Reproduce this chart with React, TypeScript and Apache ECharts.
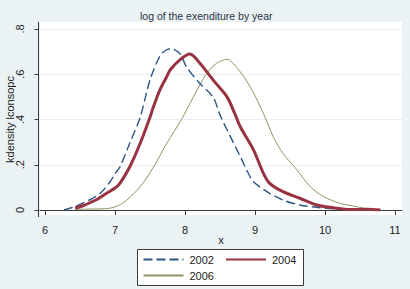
import React, { useEffect, useRef } from "react";
import * as echarts from "echarts";

// kernel density estimates of log consumption per capita, by survey year
const x2002 = [6.27, 6.4, 6.5, 6.65, 6.79, 6.93, 7.0, 7.07, 7.21, 7.36, 7.5, 7.64, 7.72, 7.8, 7.93, 8.02, 8.21, 8.4, 8.5, 8.64, 8.79, 8.88, 8.98, 9.17, 9.4, 9.64, 9.88, 10.12, 10.36, 10.6, 10.79];
const d2002 = [0, 0.012, 0.025, 0.047, 0.074, 0.125, 0.16, 0.19, 0.295, 0.41, 0.575, 0.68, 0.705, 0.713, 0.69, 0.633, 0.56, 0.5, 0.42, 0.33, 0.236, 0.177, 0.125, 0.081, 0.044, 0.022, 0.012, 0.005, 0.002, 0.001, 0];

const x2004 = [6.43, 6.55, 6.64, 6.76, 6.88, 7.0, 7.07, 7.21, 7.36, 7.5, 7.55, 7.64, 7.74, 7.79, 7.93, 8.07, 8.21, 8.4, 8.6, 8.71, 8.79, 8.98, 9.12, 9.21, 9.4, 9.64, 9.88, 10.12, 10.36, 10.6, 10.79];
const d2004 = [0.008, 0.02, 0.032, 0.05, 0.074, 0.097, 0.118, 0.19, 0.295, 0.41, 0.457, 0.53, 0.59, 0.62, 0.665, 0.69, 0.65, 0.575, 0.5, 0.427, 0.368, 0.265, 0.162, 0.118, 0.081, 0.052, 0.022, 0.01, 0.002, 0.003, 0];

const x2006 = [6.43, 6.6, 6.8, 6.93, 7.05, 7.17, 7.36, 7.55, 7.74, 7.95, 8.12, 8.31, 8.45, 8.6, 8.74, 8.93, 9.12, 9.26, 9.4, 9.6, 9.79, 9.98, 10.21, 10.45, 10.64, 10.79];
const d2006 = [0.003, 0.004, 0.005, 0.008, 0.02, 0.044, 0.103, 0.19, 0.295, 0.4, 0.5, 0.604, 0.648, 0.666, 0.63, 0.545, 0.427, 0.324, 0.25, 0.177, 0.103, 0.059, 0.03, 0.015, 0.003, 0];

const xTicks = [6, 7, 8, 9, 10, 11];
const yTickLabels = ["0", ".2", ".4", ".6", ".8"];
const years = ["2002", "2004", "2006"];

const FONT = "Liberation Sans, Arial, sans-serif";
const pair = (xs: number[], ys: number[]) => xs.map((v, i) => [v, ys[i]]);

const legendText = { fontSize: 11, color: "#222", fontFamily: FONT, padding: [0, 0, 0, 1] };

export default function App() {
  const ref = useRef<HTMLDivElement>(null);

  useEffect(() => {
    if (!ref.current) return;
    const chart = echarts.init(ref.current, undefined, { renderer: "svg" });
    chart.setOption({
      animation: false,
      backgroundColor: "#eaf2f3",
      textStyle: { fontFamily: FONT },
      graphic: [
        { type: "rect", z: -10, shape: { x: 40, y: 22, width: 362, height: 193 }, style: { fill: "#ffffff" } },
        { type: "line", z: 10, shape: { x1: 38.5, y1: 22, x2: 38.5, y2: 217 }, style: { stroke: "#3a3a3a", lineWidth: 1 } },
        {
          type: "text", left: 220 - 80, top: 10,
          style: { text: "log of the exenditure by year", width: 160, align: "center", fill: "#2b3245", font: `10.5px ${FONT}` },
        },
        { type: "rect", z: -5, shape: { x: 137.5, y: 249.5, width: 166, height: 36 }, style: { fill: "#ffffff", stroke: "#3a3a3a", lineWidth: 1 } },
      ],
      grid: { left: 40, right: 8, top: 29, bottom: 79, outerBoundsMode: "none", containLabel: false },
      xAxis: {
        type: "value",
        min: 6 - 5 / 70,
        max: 11 + 7 / 70,
        offset: 7,
        name: "x",
        nameLocation: "middle",
        nameGap: 17,
        nameMoveOverlap: false,
        nameTextStyle: { color: "#222", fontSize: 11, fontFamily: FONT },
        axisLine: { show: true, lineStyle: { color: "#3a3a3a", width: 1 } },
        axisTick: { show: true, length: 5, customValues: xTicks, lineStyle: { color: "#3a3a3a" } },
        axisLabel: { customValues: xTicks, color: "#222", fontSize: 11, margin: 7, fontFamily: FONT },
        splitLine: { show: false },
      },
      yAxis: {
        type: "value",
        min: 0,
        max: 0.8,
        interval: 0.2,
        offset: 1.5,
        name: "kdensity lconsopc",
        nameLocation: "middle",
        nameRotate: 90,
        nameGap: 23,
        nameMoveOverlap: false,
        nameTextStyle: { color: "#222", fontSize: 11, fontFamily: FONT },
        axisLine: { show: false },
        axisTick: { show: true, length: 4, lineStyle: { color: "#3a3a3a" } },
        axisLabel: {
          rotate: 90,
          color: "#222",
          fontSize: 11,
          margin: 13,
          fontFamily: FONT,
          formatter: (v: number) => yTickLabels[Math.round(v / 0.2)] ?? "",
        },
        splitLine: { show: true, lineStyle: { color: "#e6eef0", width: 1 } },
      },
      legend: [
        {
          data: [years[0], years[1]],
          left: 142.5, top: 254, padding: 0,
          itemWidth: 40, itemHeight: 14, itemGap: 11,
          itemStyle: { opacity: 0 },
          textStyle: legendText,
        },
        {
          data: [years[2]],
          left: 142.5, top: 270, padding: 0,
          itemWidth: 40, itemHeight: 14,
          itemStyle: { opacity: 0 },
          textStyle: legendText,
        },
      ],
      series: [
        {
          name: years[0], type: "line", data: pair(x2002, d2002), symbol: "none", smooth: 0.3,
          lineStyle: { color: "#2c5585", width: 1.4, type: [9, 4] }, itemStyle: { color: "#2c5585" }, z: 3,
        },
        {
          name: years[1], type: "line", data: pair(x2004, d2004), symbol: "none", smooth: 0.3,
          lineStyle: { color: "#983341", width: 3 }, itemStyle: { color: "#983341" }, z: 4,
        },
        {
          name: years[2], type: "line", data: pair(x2006, d2006), symbol: "none", smooth: 0.3,
          lineStyle: { color: "#8c9662", width: 1 }, itemStyle: { color: "#8c9662" }, z: 2,
        },
      ],
    });
    return () => chart.dispose();
  }, []);

  return <div ref={ref} style={{ position: "fixed", left: 0, top: 0, width: 410, height: 289 }} />;
}
